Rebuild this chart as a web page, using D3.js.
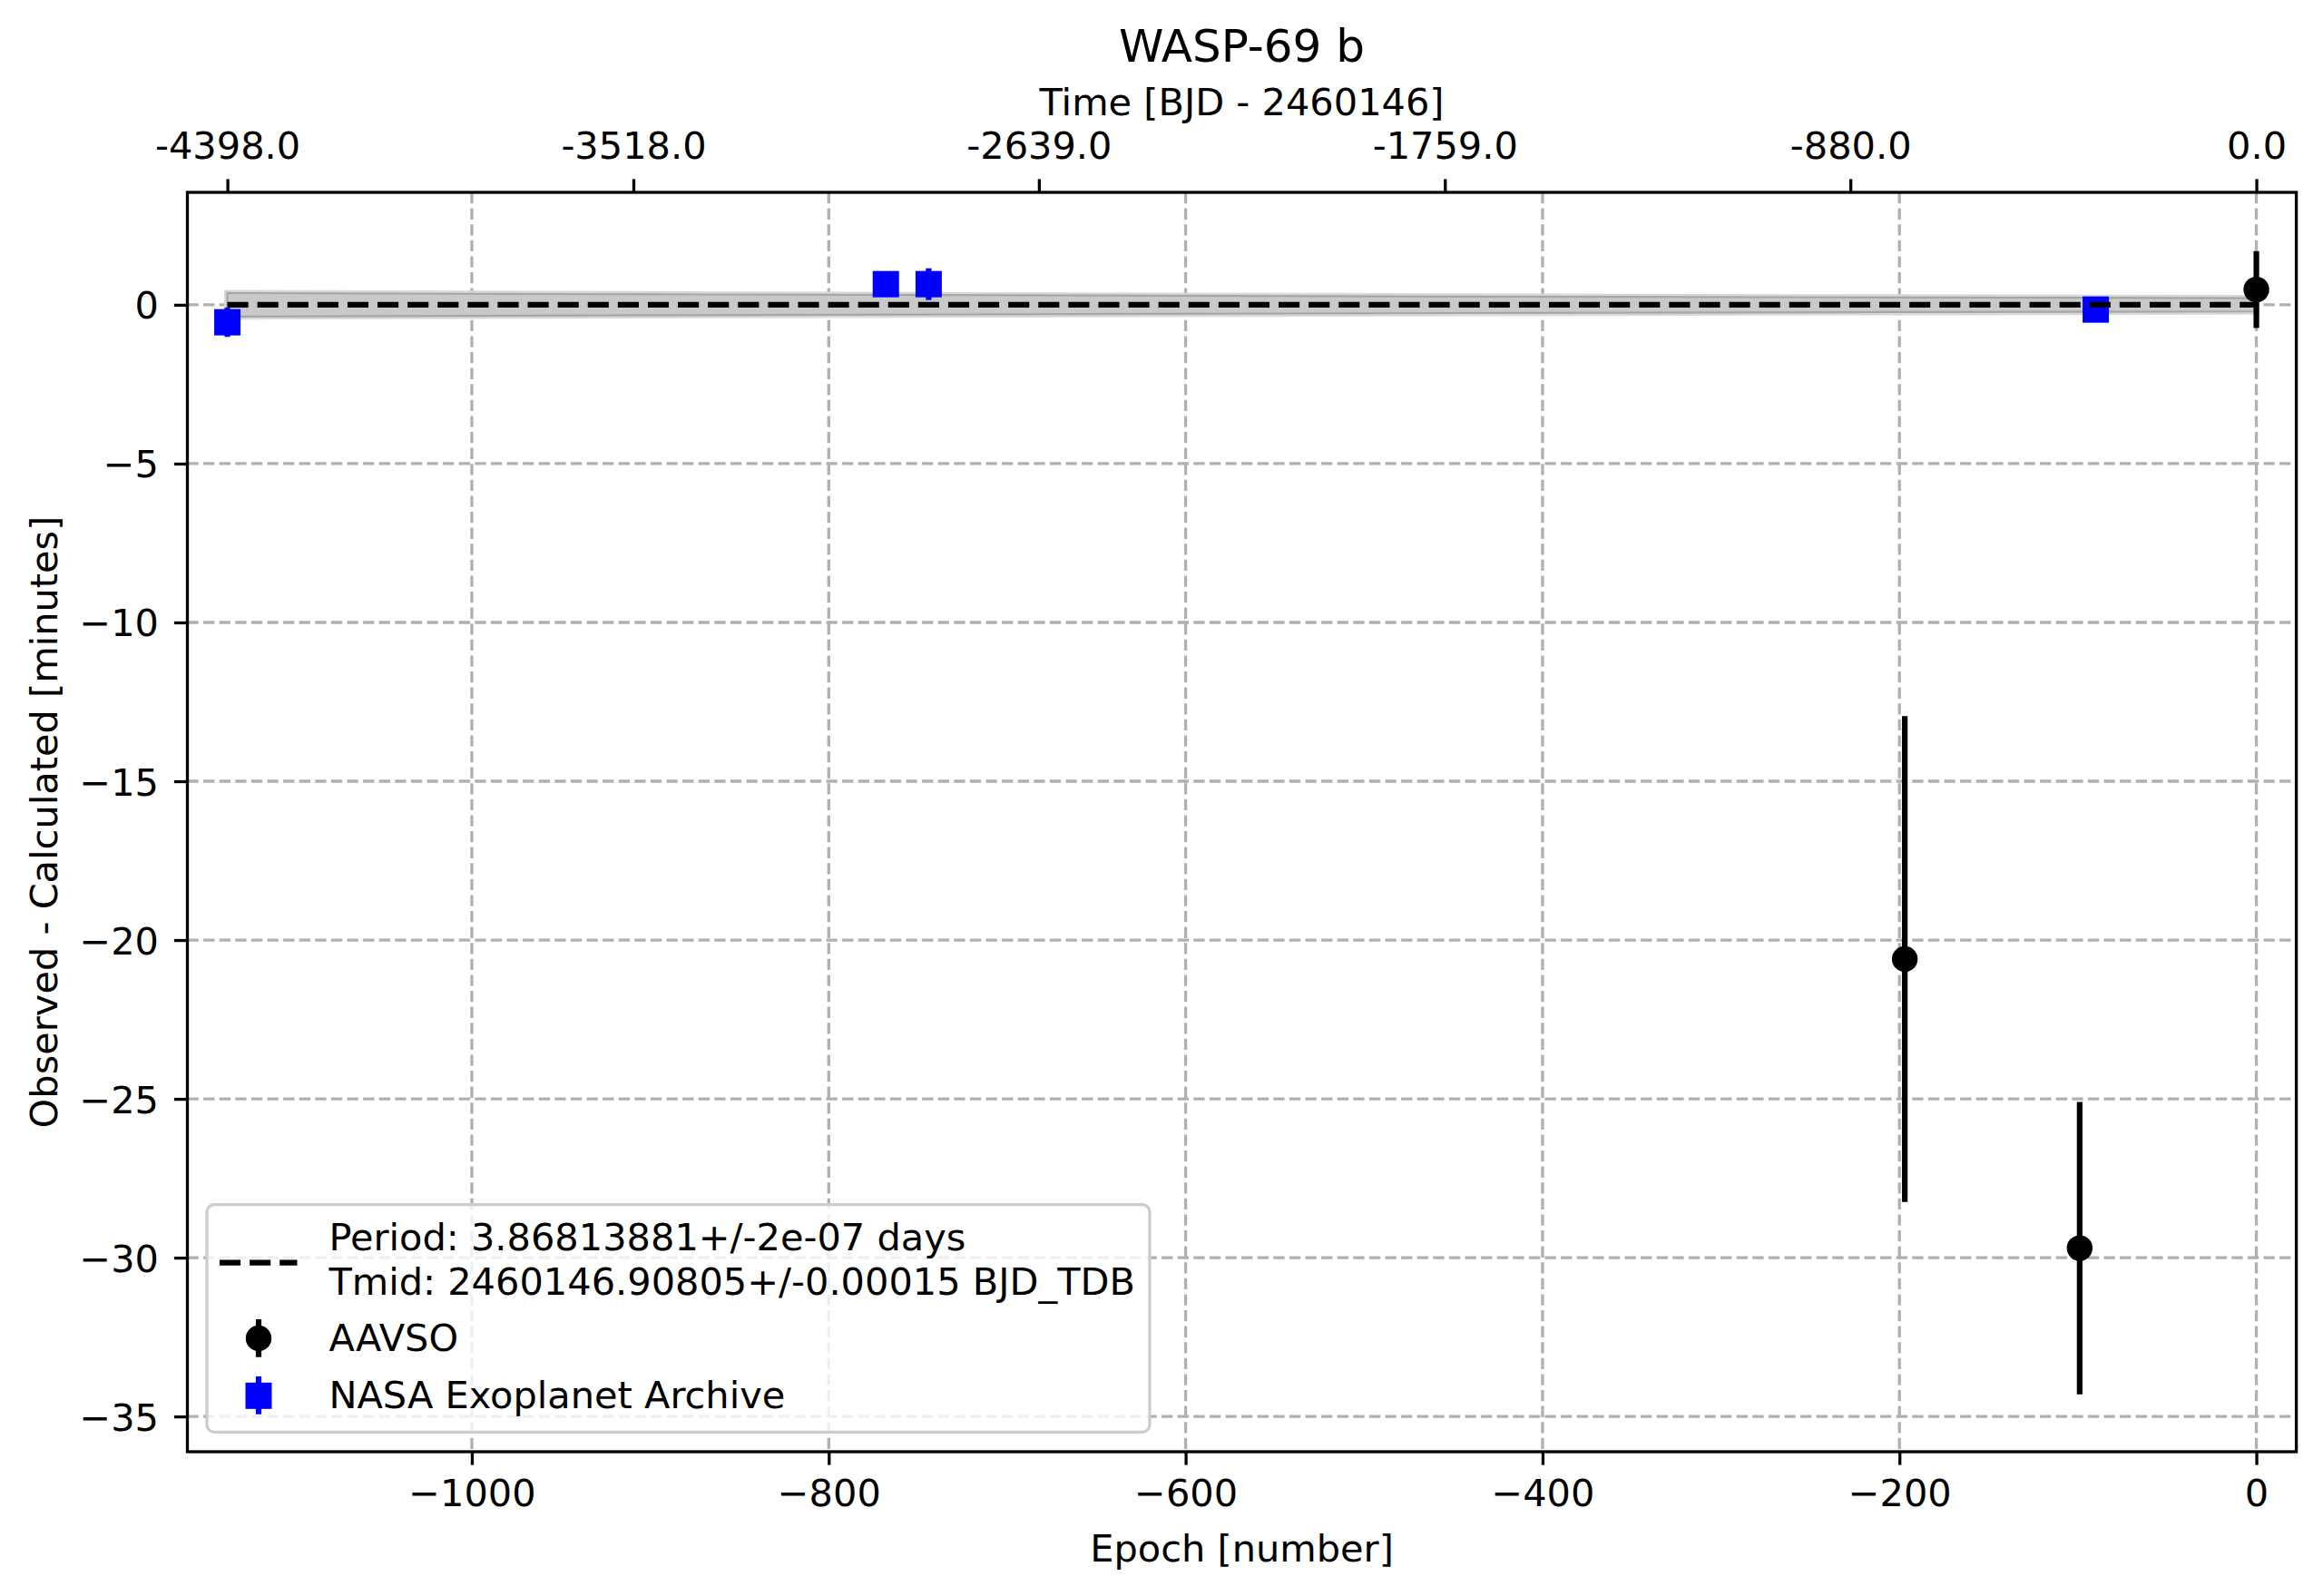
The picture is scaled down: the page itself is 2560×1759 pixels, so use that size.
<!DOCTYPE html>
<html>
<head>
<meta charset="utf-8">
<script src="https://cdn.jsdelivr.net/npm/d3@7"></script>
<style>
  html, body { margin: 0; padding: 0; background: #fff; }
  svg { display: block; }
  text { font-family: "DejaVu Sans", sans-serif; fill: #000; }
</style>
</head>
<body>
<svg id="chart" width="2560" height="1759"></svg>
<script>
// ---------------- data ----------------
const title = "WASP-69 b";
const period = 3.86813881;
const periodLabel = "Period: 3.86813881+/-2e-07 days";
const tmidLabel = "Tmid: 2460146.90805+/-0.00015 BJD_TDB";

const aavsoEpoch = [-197, -99, 0];
const aavsoOC    = [-20.6, -29.7, 0.48];
const aavsoErr   = [7.65, 4.6, 1.21];

const nasaEpoch = [-1137, -768, -744, -90];
const nasaOC    = [-0.55, 0.65, 0.65, -0.15];
const nasaErr   = [0.46, 0.35, 0.50, 0.30];

// fit line and its uncertainty band (half-width in minutes)
const fitEpoch  = [-1137, -900, -700, -450, -200, 0];
const fitOC     = [0, 0, 0, 0, 0, 0];
const bandHalf  = [0.37, 0.33, 0.30, 0.26, 0.23, 0.21];

const xTicks = [-1000, -800, -600, -400, -200, 0];
const yTicks = [0, -5, -10, -15, -20, -25, -30, -35];
const topTickTimes = [-4398, -3518, -2639, -1759, -880, 0];

const xDomain = [-1159.4, 22.4];
const yDomain = [-36.11, 3.54];

// ---------------- layout ----------------
const L = 206.5, R = 2530.6, T = 212, B = 1600;
const FS = 41.5;
const svg = d3.select("#chart");

const x = d3.scaleLinear().domain(xDomain).range([L, R]);
const y = d3.scaleLinear().domain(yDomain).range([B, T]);
const xTime = d3.scaleLinear().domain(xDomain.map(d => d * period)).range([L, R]);

const gridColor = "#b0b0b0";
const lw = 3.3;

// grid
const grid = svg.append("g");
grid.selectAll(".gx").data(xTicks).join("line")
  .attr("x1", d => x(d)).attr("x2", d => x(d))
  .attr("y1", T).attr("y2", B)
  .attr("stroke", gridColor).attr("stroke-width", lw)
  .attr("stroke-dasharray", "12.3,5.3");
grid.selectAll(".gy").data(yTicks).join("line")
  .attr("y1", d => y(d)).attr("y2", d => y(d))
  .attr("x1", L).attr("x2", R)
  .attr("stroke", gridColor).attr("stroke-width", lw)
  .attr("stroke-dasharray", "12.3,5.3");

// band
const bandData = fitEpoch.map((e, i) => ({ e, lo: fitOC[i] - bandHalf[i], hi: fitOC[i] + bandHalf[i] }));
const area = d3.area().x(d => x(d.e)).y0(d => y(d.lo)).y1(d => y(d.hi));
svg.append("path").datum(bandData).attr("d", area)
  .attr("fill", "none").attr("stroke", "#d8d8d8").attr("stroke-width", 7);
svg.append("path").datum(bandData).attr("d", area)
  .attr("fill", "#c9c9c9").attr("stroke", "#a6a6a6").attr("stroke-width", 2.2);

// error bars helper
function drawErr(g, ex, oc, err, color, marker) {
  const data = ex.map((e, i) => ({ e, v: oc[i], s: err[i] }));
  g.selectAll("line.eb").data(data).join("line")
    .attr("x1", d => x(d.e)).attr("x2", d => x(d.e))
    .attr("y1", d => y(d.v + d.s)).attr("y2", d => y(d.v - d.s))
    .attr("stroke", color).attr("stroke-width", 6.2);
  if (marker === "circle") {
    g.selectAll("circle").data(data).join("circle")
      .attr("cx", d => x(d.e)).attr("cy", d => y(d.v)).attr("r", 14.2)
      .attr("fill", color);
  } else {
    const s = 29;
    g.selectAll("rect").data(data).join("rect")
      .attr("x", d => x(d.e) - s / 2).attr("y", d => y(d.v) - s / 2)
      .attr("width", s).attr("height", s).attr("fill", color);
  }
}
drawErr(svg.append("g"), nasaEpoch, nasaOC, nasaErr, "#0000ff", "square");
drawErr(svg.append("g"), aavsoEpoch, aavsoOC, aavsoErr, "#000000", "circle");

// fit line
const fitLine = d3.line().x((d, i) => x(fitEpoch[i])).y(d => y(d));
svg.append("path").datum(fitOC).attr("d", fitLine)
  .attr("fill", "none").attr("stroke", "#000").attr("stroke-width", 6.2)
  .attr("stroke-dasharray", "23.1,10");

// axes
function styleAxis(g) {
  g.select(".domain").remove();
  g.selectAll(".tick line").attr("stroke", "#000").attr("stroke-width", lw);
  g.selectAll(".tick text").attr("font-size", FS).attr("font-family", "DejaVu Sans");
}
const gb = svg.append("g").attr("transform", `translate(0,${B})`)
  .call(d3.axisBottom(x).tickValues(xTicks).tickFormat(d3.format("d")).tickSize(14.6).tickPadding(14.6));
styleAxis(gb);
gb.selectAll(".tick text").attr("dy", null).attr("y", 60);

const gt = svg.append("g").attr("transform", `translate(0,${T})`)
  .call(d3.axisTop(xTime).tickValues(topTickTimes).tickFormat(d => d.toFixed(1)).tickSize(14.6).tickPadding(14.6));
styleAxis(gt);
gt.selectAll(".tick text").attr("dy", null).attr("y", -37);

const gl = svg.append("g").attr("transform", `translate(${L},0)`)
  .call(d3.axisLeft(y).tickValues(yTicks).tickFormat(d3.format("d")).tickSize(14.6).tickPadding(14.6));
styleAxis(gl);
gl.selectAll(".tick text").attr("dy", null).attr("x", -31.5).attr("y", 15);

// frame
svg.append("rect").attr("x", L).attr("y", T).attr("width", R - L).attr("height", B - T)
  .attr("fill", "none").attr("stroke", "#000").attr("stroke-width", lw);

// labels
const cx = (L + R) / 2;
svg.append("text").attr("x", cx).attr("y", 68).attr("text-anchor", "middle")
  .attr("font-size", 50).text(title);
svg.append("text").attr("x", cx).attr("y", 126.7).attr("text-anchor", "middle")
  .attr("font-size", FS).text("Time [BJD - 2460146]");
svg.append("text").attr("x", cx).attr("y", 1721).attr("text-anchor", "middle")
  .attr("font-size", FS).text("Epoch [number]");
svg.append("text").attr("transform", `translate(63.3,${(T + B) / 2}) rotate(-90)`)
  .attr("text-anchor", "middle").attr("font-size", FS)
  .text("Observed - Calculated [minutes]");

// legend
const lg = svg.append("g").attr("transform", "translate(228,1327.7)");
lg.append("rect").attr("x", 0).attr("y", 0).attr("width", 1039).attr("height", 250.6)
  .attr("rx", 8).attr("ry", 8)
  .attr("fill", "#fff").attr("fill-opacity", 0.8)
  .attr("stroke", "#cccccc").attr("stroke-width", lw);
const hx = 57; // handle centre
lg.append("line").attr("x1", 14).attr("x2", 99.5).attr("y1", 64).attr("y2", 64)
  .attr("stroke", "#000").attr("stroke-width", 6.2).attr("stroke-dasharray", "23.1,10");
lg.append("text").attr("x", 134.4).attr("y", 50.6).attr("font-size", FS).text(periodLabel);
lg.append("text").attr("x", 134.4).attr("y", 99).attr("font-size", FS).text(tmidLabel);

lg.append("line").attr("x1", hx).attr("x2", hx).attr("y1", 126.3).attr("y2", 168)
  .attr("stroke", "#000").attr("stroke-width", 6.2);
lg.append("circle").attr("cx", hx).attr("cy", 147.3).attr("r", 14.2).attr("fill", "#000");
lg.append("text").attr("x", 134.4).attr("y", 161.6).attr("font-size", FS).text("AAVSO");

lg.append("line").attr("x1", hx).attr("x2", hx).attr("y1", 189.3).attr("y2", 231)
  .attr("stroke", "#0000ff").attr("stroke-width", 6.2);
lg.append("rect").attr("x", hx - 14.5).attr("y", 196.1).attr("width", 29).attr("height", 29).attr("fill", "#0000ff");
lg.append("text").attr("x", 134.4).attr("y", 224).attr("font-size", FS).text("NASA Exoplanet Archive");
</script>
</body>
</html>
